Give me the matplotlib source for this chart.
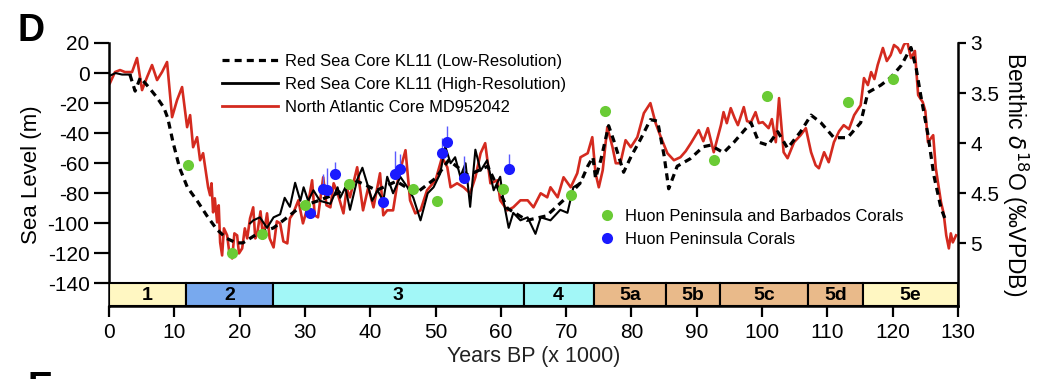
import numpy as np
import matplotlib
matplotlib.use('Agg')
import matplotlib.pyplot as plt
from matplotlib.lines import Line2D

plt.rcParams['font.family'] = ['Liberation Sans', 'DejaVu Sans']
plt.rcParams['axes.unicode_minus'] = False

# Red Sea core KL11, low resolution (kyr BP, sea level m)
low_age = [3.2, 4.0, 4.8, 6.0, 7.3, 8.4, 9.0, 9.8, 10.8, 12.0, 13.5, 15.0, 16.5, 18.0, 19.5, 20.5,
           22.7, 25.2, 27.3, 29.3, 32, 35, 38, 41, 44, 47, 50, 52, 55, 58, 61, 64, 67, 70,
           70.7, 72.2, 73.3, 74.1, 74.5, 75.3, 76.5, 77.3, 78.8, 80, 81.4, 82.9, 84, 85, 85.7,
           87, 89, 91, 92.1, 94.1, 95.7, 98.3, 99.5, 100.9, 102.4, 103.9, 105.9, 107.5, 109,
           111, 113.1, 115.1, 116.2, 118.2, 119.7, 121.3, 122.8, 123.6, 124.3, 125.4, 126.3,
           127.4, 128.2]
low_sl = [-1, -12, -3, -9, -16, -23, -30, -46, -63, -76, -85, -95, -104, -110, -113, -113,
          -107, -103, -96, -89, -85, -80, -72, -78, -72, -80, -70, -58, -68, -62, -90, -98, -95, -83,
          -80, -73, -62, -56, -70, -58, -35, -45, -66, -55, -44, -31, -32, -55, -77,
          -62, -57, -49, -48, -53, -46, -33, -46, -48, -39, -50, -39, -28, -33,
          -43, -43, -33, -13, -8, -3, 5, 17, 3, -15, -41, -68,
          -90, -99]

# Red Sea core KL11, high resolution (gap marked with nan)
high_age = [0, 1, 2, 3.3, np.nan,
            21.6, 22.1, 23.1, 24.2, 25.2, 26.2, 26.9, 27.7, 28.5, 29.3, 29.8, 30.5, 31.3, 32.3,
            33.9, 35, 35.4, 36.2, 36.9, 38, 38.8, 39.5, 40.3, 41.1, 42, 42.6, 43.5, 44.6, 45.7,
            46.6, 47.7, 48.8, 49.7, 50.7, 51.5, 52.3, 53, 53.8, 54.6, 55.3, 56.1, 56.9, 57.9,
            58.9, 59.9, 60.4, 61.2, 61.9, 63, 64.1, 65.3, 66.1, 67.6, 69.1, 70.2, 71.1, 72.2]
high_sl = [-2, 0, -1, -1, np.nan,
           -100, -98, -96, -103, -96, -94, -83, -89, -73, -85, -76, -85, -78, -85,
           -87, -76, -83, -76, -91, -71, -63, -73, -85, -78, -85, -69, -80, -69, -76,
           -83, -98, -80, -76, -67, -49, -60, -56, -69, -60, -89, -51, -65, -58,
           -78, -69, -85, -103, -93, -98, -96, -107, -96, -98, -91, -93, -76, -73]

# North Atlantic core MD952042, benthic d18O (permil VPDB)
na_age = [0.15, 0.92, 1.69, 2.45, 3.53, 4.29, 5.06, 5.83, 6.59, 7.36, 8.12, 8.89, 9.66, 10.42,
          11.19, 11.96, 12.42, 12.88, 13.49, 13.95, 14.41, 15.18, 15.48, 15.7, 15.94, 16.2,
          16.56, 16.8, 17.02, 17.32, 17.6, 18.09, 18.4, 18.86, 19.2, 19.62, 19.9, 20.39, 20.8,
          21.16, 21.6, 22.08, 22.4, 22.7, 23.2, 23.6, 24.2, 24.6, 25.2, 25.7, 26.2, 26.7,
          27.3, 27.7, 28.2, 29.0, 29.7, 30.4, 31.1, 31.5, 32.0, 32.8, 33.3, 33.9, 34.4, 35.0,
          35.9, 36.4, 36.9, 38.0, 38.9, 39.7, 40.5, 41.5, 42.0, 42.6, 43.5, 44.3, 45.4, 46.1,
          46.9, 47.7, 48.7, 50.0, 51.0, 51.8, 52.3, 53.3, 54.3, 55.3, 56.1, 56.9, 57.6, 58.4,
          59.5, 59.9, 61.0, 61.9, 63.0, 64.1, 65.0, 66.1, 67.1, 67.6, 68.7, 69.6, 70.7, 71.7,
          72.2, 73.3, 74.0, 74.5, 75.0, 75.6, 76.3, 77.1, 77.6, 78.3, 79.1, 79.9, 80.9, 81.9,
          82.9, 83.7, 84.5, 85.5, 86.5, 87.5, 88.3, 89.1, 90.3, 91.0, 91.7, 92.6, 93.7, 94.1,
          94.6, 95.2, 95.8, 96.3, 97.2, 97.7, 98.3, 99.0, 99.5, 100.1, 101.0, 101.5, 102.1,
          102.6, 103.3, 103.9, 104.9, 105.9, 106.7, 107.5, 108.2, 108.7, 109.5, 110.2, 111.0,
          111.8, 112.5, 113.3, 114.1, 115.1, 115.6, 116.2, 116.7, 117.2, 117.7, 118.5, 119.1,
          119.7, 120.2, 120.8, 121.2, 121.7, 122.2, 122.8, 123.4, 123.9, 124.6, 125.0, 125.4,
          126.2, 126.6, 127.4, 127.8, 128.2, 128.6, 128.9, 129.2, 129.7]
na_d18o = [3.40, 3.29, 3.27, 3.29, 3.29, 3.15, 3.47, 3.34, 3.22, 3.37, 3.29, 3.19, 3.74, 3.57,
           3.44, 3.84, 3.72, 4.04, 3.94, 4.17, 4.10, 4.44, 4.52, 4.40, 4.69, 4.55,
           4.79, 4.62, 4.99, 5.12, 4.85, 4.92, 5.08, 5.15, 4.90, 4.92, 5.10, 5.05, 4.85,
           4.95, 4.75, 4.64, 4.95, 4.90, 4.68, 4.95, 4.70, 4.95, 5.04, 4.78, 4.80, 4.98,
           5.00, 4.75, 4.70, 4.57, 4.80, 4.64, 4.37, 4.72, 4.74, 4.34, 4.62, 4.64, 4.40, 4.50,
           4.70, 4.45, 4.54, 4.24, 4.67, 4.44, 4.64, 4.30, 4.72, 4.67, 4.67, 4.34, 4.07, 4.57,
           4.70, 4.67, 4.47, 4.37, 4.14, 4.24, 4.44, 4.40, 4.44, 4.50, 4.34, 4.10, 4.00, 4.40,
           4.37, 4.57, 4.67, 4.64, 4.57, 4.57, 4.64, 4.50, 4.54, 4.44, 4.54, 4.34, 4.44, 4.30,
           4.14, 4.10, 3.94, 4.30, 4.44, 4.27, 3.84, 4.04, 4.20, 4.20, 3.97, 4.04, 3.94, 3.70,
           3.60, 3.80, 3.94, 4.10, 4.17, 4.14, 4.08, 4.00, 3.87, 3.98, 3.85, 4.09, 3.82, 3.69,
           3.80, 3.65, 3.75, 3.82, 3.64, 3.78, 3.79, 3.69, 3.80, 3.79, 3.85, 3.76, 3.99,
           3.55, 4.09, 4.15, 3.99, 3.92, 3.85, 4.09, 4.22, 4.25, 4.09, 4.19, 3.99,
           3.88, 3.82, 3.86, 3.72, 3.62, 3.35, 3.42, 3.29, 3.36, 3.22, 3.05, 3.18,
           3.12, 3.02, 3.05, 3.10, 3.02, 2.98, 3.15, 3.08, 3.52, 3.59, 3.68, 3.99,
           3.92, 4.25, 4.59, 4.70, 4.92, 5.05, 4.90, 4.99, 4.92]

# corals
green_age = [12.1, 18.9, 23.5, 30.0, 36.8, 46.5, 50.3, 60.4, 70.8, 76.0, 92.6, 100.7, 113.1, 120.0]
green_sl = [-61, -120, -107, -88, -74, -77, -85, -77, -81, -25, -58, -15, -19, -4]
blue_age = [30.8, 32.8, 33.4, 34.6, 42.0, 43.8, 44.6, 51.0, 51.8, 54.4, 61.2]
blue_sl = [-93, -77, -78, -67, -86, -67, -64, -53, -46, -70, -64]
blue_err_up = [0, 10, 15, 8, 0, 15, 10, 10, 11, 15, 10]

# marine isotope stages
stage_names = ['1', '2', '3', '4', '5a', '5b', '5c', '5d', '5e']
stage_start = [0, 11.8, 25.1, 63.5, 74.2, 85.3, 93.6, 107.0, 115.5]
stage_end = [11.8, 25.1, 63.5, 74.2, 85.3, 93.6, 107.0, 115.5, 130]
stage_colors = ['#fff7c2', '#78a9ee', '#a2f7f7', '#a2f7f7', '#e9ba8a', '#e9ba8a',
                '#e9ba8a', '#e9ba8a', '#fff7c2']

fig = plt.figure(figsize=(10.57, 3.79), dpi=100)
ax = fig.add_axes([109/1057, 1-306/379, 849/1057, 263/379])
ax2 = ax.twinx()
ax.set_zorder(ax2.get_zorder() + 1)
ax.patch.set_visible(False)

red = '#d42a1f'
ax2.plot(na_age, na_d18o, color=red, lw=1.9, zorder=2)
ax.plot(low_age, low_sl, color='black', lw=2.3, ls=(0, (2.2, 1.6)), zorder=3)
ax.plot(high_age, high_sl, color='black', lw=1.5, zorder=4)

ax.errorbar(blue_age, blue_sl, yerr=[np.zeros(len(blue_err_up)), blue_err_up], fmt='none',
            ecolor='#5a5aff', elinewidth=1.0, capsize=0, zorder=5)
ax.plot(blue_age, blue_sl, 'o', color='#1a1aff', ms=8, mec='none', zorder=6)
ax.plot(green_age, green_sl, 'o', color='#6acb35', ms=8, mec='none', zorder=6)

# stage bar
bar_bottom, bar_top = -155, -140
ax.bar(stage_start, bar_top - bar_bottom, width=np.array(stage_end) - np.array(stage_start),
       bottom=bar_bottom, align='edge', color=stage_colors, edgecolor='black', lw=1.5, zorder=7)
for name, s, e in zip(stage_names, stage_start, stage_end):
    ax.text((s + e) / 2, (bar_top + bar_bottom) / 2 - 0.5, name, ha='center', va='center',
            fontsize=14, fontweight='bold', zorder=8)

ax.set_xlim(0, 130)
ax.set_ylim(bar_bottom, 20)
ax2.set_ylim(3 + (20 - bar_bottom) / 66.67, 3)

ax.set_xticks(np.arange(0, 131, 10))
ax.set_yticks(np.arange(-140, 21, 20))
ax2.set_yticks([3, 3.5, 4, 4.5, 5])
ax2.set_yticklabels(['3', '3.5', '4', '4.5', '5'])

for a in (ax, ax2):
    a.spines['top'].set_visible(False)
    for sp in a.spines.values():
        sp.set_linewidth(1.8)
ax.spines['right'].set_visible(False)
ax2.spines['left'].set_visible(False)
ax2.spines['bottom'].set_visible(False)

ax.tick_params(axis='y', length=11, width=1.6, labelsize=15, pad=3)
ax.tick_params(axis='x', length=8, width=1.6, labelsize=15, pad=4)
ax2.tick_params(axis='y', length=6, width=1.6, labelsize=15, pad=3)

ax.set_xlabel('Years BP (x 1000)', fontsize=15.5, labelpad=3, color='#222222')
ax.set_ylabel('Sea Level (m)', fontsize=16, labelpad=4)
ax2.set_ylabel('Benthic $\\delta^{18}$O (‰VPDB)', fontsize=16.5, rotation=270, labelpad=22)

h1 = [Line2D([], [], color='black', lw=2.3, ls=(0, (2.2, 1.6))),
      Line2D([], [], color='black', lw=2.0),
      Line2D([], [], color=red, lw=2.0)]
leg1 = ax.legend(h1, ['Red Sea Core KL11 (Low-Resolution)', 'Red Sea Core KL11 (High-Resolution)',
                      'North Atlantic Core MD952042'],
                 loc='upper left', bbox_to_anchor=(0.133, 0.96), frameon=False, fontsize=11.9,
                 handlelength=3.4, handletextpad=0.4, labelspacing=0.5, borderaxespad=0, borderpad=0)
ax.add_artist(leg1)
h2 = [Line2D([], [], marker='o', ls='none', color='#6acb35', ms=8, mec='none'),
      Line2D([], [], marker='o', ls='none', color='#1a1aff', ms=8, mec='none')]
ax.legend(h2, ['Huon Peninsula and Barbados Corals', 'Huon Peninsula Corals'],
          loc='upper left', bbox_to_anchor=(0.577, 0.37), frameon=False, fontsize=11.9,
          handlelength=1.0, handletextpad=0.6, labelspacing=0.5, borderaxespad=0, borderpad=0)

fig.text(17/1057, 1 - 41/379, 'D', fontsize=27, fontweight='bold', ha='left', va='baseline')
fig.text(28/1057, 1 - 371/379, 'E', fontsize=27, fontweight='bold', ha='left', va='top')

fig.savefig('out.png', dpi=100)
